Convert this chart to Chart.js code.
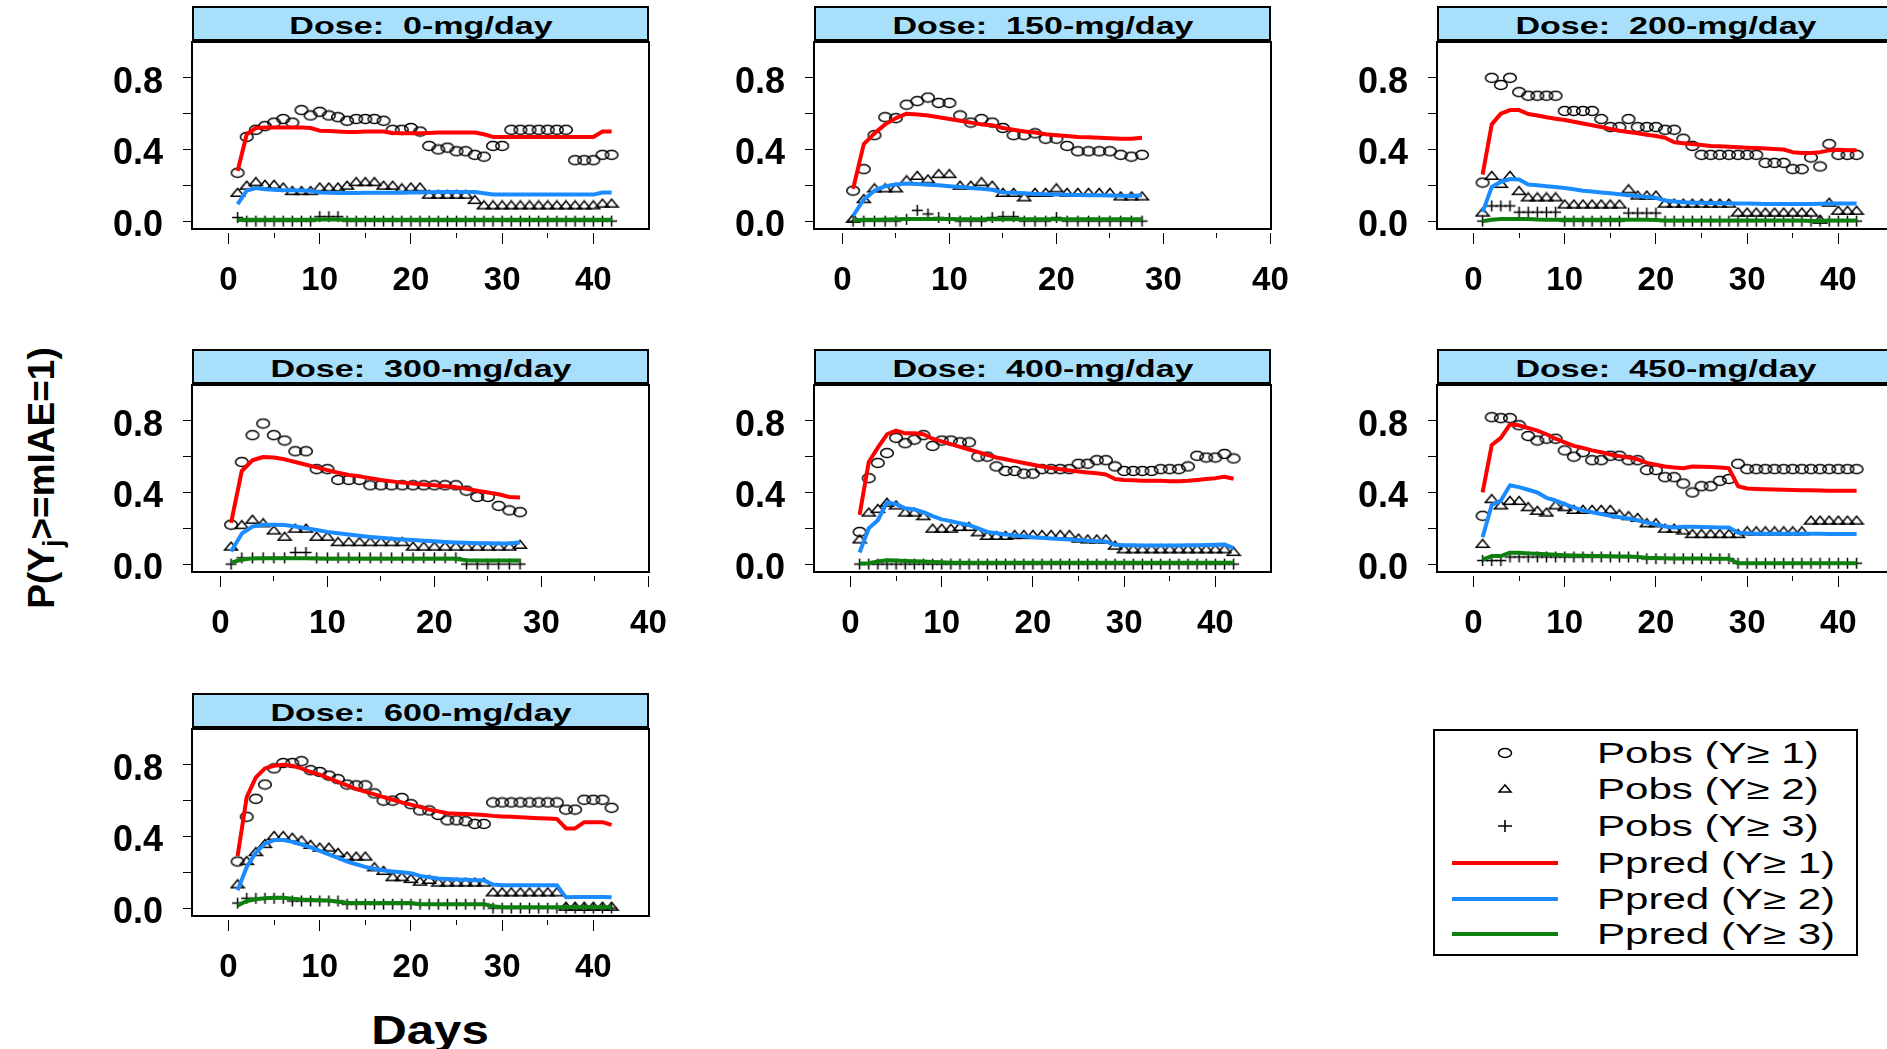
<!DOCTYPE html>
<html>
<head>
<meta charset="utf-8">
<script src="https://cdn.jsdelivr.net/npm/chart.js@4.4.0/dist/chart.umd.min.js"></script>
<style>
    body { margin: 0; width: 1887px; height: 1049px; overflow: hidden; background: #fff; position: relative;
           font-family: "Liberation Sans", Arial, Helvetica, sans-serif; }
    canvas { position: absolute; }
    .strip { position: absolute; height: 35px; box-sizing: border-box; border: 2px solid #000; background: #a8e0fc; }
    .strip span { position: absolute; left: 50%; top: 6px; line-height: 24px; font-size: 24px; font-weight: bold;
                  white-space: pre; transform: translateX(-50%) scaleX(1.42); }
    #legend { position: absolute; left: 1433px; top: 729px; width: 425px; height: 227px; box-sizing: border-box; border: 2px solid #000; }
    #legend .txt { position: absolute; left: 162px; font-size: 29px; line-height: 29px; white-space: pre;
                   transform: scaleX(1.45); transform-origin: left center; }
    #legend svg { position: absolute; }
    #ylab { position: absolute; left: 42px; top: 478px; font-size: 37px; font-weight: bold; white-space: nowrap;
            transform: translate(-50%, -50%) rotate(-90deg); }
    #ylab sub { font-size: 27px; vertical-align: -8px; line-height: 0; }
    #xlab { position: absolute; left: 430px; top: 1010px; font-size: 40px; line-height: 40px; font-weight: bold;
            transform: translateX(-50%) scaleX(1.23); }
</style>
</head>
<body>
<div id="ylab">P(Y<sub>j</sub>&gt;=mIAE=1)</div>
<div id="xlab">Days</div>
<div id="legend"></div>
<script>
const doses = ['0', '150', '200', '300', '400', '450', '600'];
const xTicks = [0, 5, 10, 15, 20, 25, 30, 35, 40];
const xTickLabels = ['0', '', '10', '', '20', '', '30', '', '40'];
const yTicks = [0, 0.2, 0.4, 0.6, 0.8];
const yTickLabels = ['0.0', '', '0.4', '', '0.8'];
const legendLabels = ['Pobs (Y\u2265 1)', 'Pobs (Y\u2265 2)', 'Pobs (Y\u2265 3)',
                      'Ppred (Y\u2265 1)', 'Ppred (Y\u2265 2)', 'Ppred (Y\u2265 3)'];

// Dose 0 mg/day, days 1-42
const pobs1_0 = [0.27, 0.47, 0.51, 0.53, 0.55, 0.57, 0.55, 0.62, 0.59, 0.61,
    0.59, 0.58, 0.56, 0.57, 0.57, 0.57, 0.56, 0.51, 0.51, 0.52,
    0.50, 0.42, 0.40, 0.41, 0.39, 0.39, 0.37, 0.36, 0.42, 0.42,
    0.51, 0.51, 0.51, 0.51, 0.51, 0.51, 0.51, 0.34, 0.34, 0.34,
    0.37, 0.37];
const pobs2_0 = [0.16, 0.20, 0.22, 0.205, 0.205, 0.19, 0.17, 0.17, 0.17, 0.19,
    0.19, 0.19, 0.20, 0.22, 0.22, 0.22, 0.20, 0.20, 0.185, 0.19,
    0.19, 0.15, 0.15, 0.15, 0.15, 0.15, 0.12, 0.09, 0.09, 0.09,
    0.09, 0.09, 0.09, 0.09, 0.09, 0.09, 0.09, 0.09, 0.09, 0.09,
    0.10, 0.10];
const pobs3_0 = [0.02, 0, 0, 0, 0, 0, 0, 0, 0, 0.025,
    0.025, 0.025, 0, 0, 0, 0, 0, 0, 0, 0,
    0, 0, 0, 0, 0, 0, 0, 0, 0, 0,
    0, 0, 0, 0, 0, 0, 0, 0, 0, 0,
    0, 0];
const ppred1_0 = [0.28, 0.485, 0.52, 0.523, 0.523, 0.523, 0.523, 0.523, 0.52, 0.505,
    0.503, 0.50, 0.498, 0.498, 0.50, 0.50, 0.50, 0.492, 0.49, 0.49,
    0.49, 0.492, 0.495, 0.495, 0.495, 0.495, 0.495, 0.485, 0.47, 0.47,
    0.47, 0.47, 0.47, 0.47, 0.47, 0.47, 0.47, 0.47, 0.47, 0.47,
    0.50, 0.50];
const ppred2_0 = [0.095, 0.17, 0.185, 0.178, 0.175, 0.173, 0.172, 0.171, 0.17, 0.16,
    0.158, 0.157, 0.157, 0.157, 0.158, 0.158, 0.158, 0.158, 0.158, 0.16,
    0.16, 0.161, 0.162, 0.163, 0.163, 0.163, 0.162, 0.156, 0.149, 0.148,
    0.148, 0.148, 0.148, 0.148, 0.148, 0.148, 0.148, 0.148, 0.148, 0.148,
    0.16, 0.16];
const ppred3_0 = [0.006, 0.008, 0.008, 0.008, 0.008, 0.008, 0.008, 0.008, 0.008, 0.009,
    0.009, 0.009, 0.008, 0.008, 0.008, 0.008, 0.008, 0.008, 0.008, 0.008,
    0.008, 0.008, 0.008, 0.008, 0.008, 0.008, 0.008, 0.008, 0.007, 0.007,
    0.007, 0.007, 0.007, 0.007, 0.007, 0.007, 0.007, 0.007, 0.007, 0.007,
    0.008, 0.008];

// Dose 150 mg/day, days 1-28
const pobs1_150 = [0.17, 0.29, 0.48, 0.58, 0.575, 0.65, 0.67, 0.69, 0.66, 0.66,
    0.59, 0.55, 0.57, 0.55, 0.52, 0.48, 0.48, 0.49, 0.46, 0.46,
    0.42, 0.39, 0.39, 0.39, 0.39, 0.37, 0.36, 0.37];
const pobs2_150 = [0.015, 0.125, 0.185, 0.185, 0.185, 0.23, 0.255, 0.235, 0.265, 0.265,
    0.20, 0.20, 0.22, 0.20, 0.16, 0.16, 0.135, 0.16, 0.16, 0.185,
    0.16, 0.16, 0.16, 0.16, 0.16, 0.14, 0.14, 0.14];
const pobs3_150 = [0, 0, 0, 0, 0, 0.01, 0.06, 0.04, 0.02, 0.015,
    0, 0, 0, 0.02, 0.025, 0.025, 0, 0, 0, 0.02,
    0, 0, 0, 0, 0, 0, 0, 0];
const ppred1_150 = [0.18, 0.43, 0.49, 0.54, 0.575, 0.60, 0.595, 0.59, 0.58, 0.57,
    0.56, 0.55, 0.54, 0.535, 0.52, 0.51, 0.50, 0.495, 0.485, 0.48,
    0.475, 0.47, 0.468, 0.465, 0.462, 0.46, 0.46, 0.465];
const ppred2_150 = [0.03, 0.12, 0.17, 0.195, 0.205, 0.21, 0.207, 0.203, 0.20, 0.195,
    0.19, 0.185, 0.18, 0.175, 0.16, 0.158, 0.155, 0.152, 0.15, 0.148,
    0.147, 0.146, 0.145, 0.144, 0.143, 0.142, 0.14, 0.145];
const ppred3_150 = [0.004, 0.007, 0.008, 0.009, 0.01, 0.012, 0.012, 0.012, 0.012, 0.012,
    0.011, 0.011, 0.011, 0.011, 0.011, 0.011, 0.01, 0.01, 0.01, 0.01,
    0.01, 0.01, 0.01, 0.01, 0.01, 0.01, 0.01, 0.01];

// Dose 200 mg/day, days 1-42
const pobs1_200 = [0.215, 0.80, 0.76, 0.80, 0.72, 0.70, 0.70, 0.70, 0.70, 0.615,
    0.615, 0.615, 0.615, 0.57, 0.525, 0.525, 0.57, 0.525, 0.525, 0.525,
    0.51, 0.51, 0.46, 0.42, 0.37, 0.37, 0.37, 0.37, 0.37, 0.37,
    0.37, 0.325, 0.325, 0.325, 0.29, 0.29, 0.355, 0.305, 0.43, 0.37,
    0.37, 0.37];
const pobs2_200 = [0.05, 0.255, 0.21, 0.255, 0.17, 0.135, 0.135, 0.135, 0.135, 0.095,
    0.095, 0.095, 0.095, 0.095, 0.095, 0.095, 0.18, 0.145, 0.145, 0.145,
    0.10, 0.10, 0.10, 0.10, 0.10, 0.10, 0.10, 0.10, 0.05, 0.05,
    0.05, 0.05, 0.05, 0.05, 0.05, 0.05, 0.05, 0.01, 0.105, 0.06,
    0.06, 0.06];
const pobs3_200 = [0, 0.085, 0.085, 0.085, 0.05, 0.05, 0.05, 0.05, 0.05, 0,
    0, 0, 0, 0, 0, 0, 0.045, 0.045, 0.045, 0.045,
    0, 0, 0, 0, 0, 0, 0, 0, 0, 0,
    0, 0, 0, 0, 0, 0, 0, 0, 0, 0,
    0, 0];
const ppred1_200 = [0.26, 0.54, 0.60, 0.62, 0.62, 0.598, 0.59, 0.58, 0.572, 0.565,
    0.555, 0.545, 0.535, 0.525, 0.515, 0.505, 0.497, 0.49, 0.482, 0.475,
    0.465, 0.44, 0.435, 0.43, 0.425, 0.42, 0.418, 0.415, 0.412, 0.41,
    0.408, 0.405, 0.402, 0.40, 0.385, 0.38, 0.38, 0.385, 0.395, 0.398,
    0.395, 0.395];
const ppred2_200 = [0.05, 0.19, 0.22, 0.235, 0.233, 0.205, 0.20, 0.195, 0.19, 0.185,
    0.178, 0.17, 0.165, 0.16, 0.155, 0.15, 0.145, 0.14, 0.135, 0.13,
    0.115, 0.11, 0.105, 0.103, 0.102, 0.101, 0.10, 0.10, 0.099, 0.098,
    0.097, 0.096, 0.095, 0.095, 0.095, 0.095, 0.096, 0.097, 0.098, 0.098,
    0.098, 0.098];
const ppred3_200 = [0.0, 0.008, 0.012, 0.012, 0.012, 0.012, 0.009, 0.008, 0.008, 0.007,
    0.007, 0.007, 0.007, 0.007, 0.007, 0.007, 0.007, 0.007, 0.007, 0.006,
    0.004, 0.003, 0.003, 0.003, 0.003, 0.003, 0.003, 0.003, 0.003, 0.003,
    0.003, 0.003, 0.003, 0.003, 0.003, 0.003, 0.001, 0.001, 0.003, 0.003,
    0.003, 0.003];

// Dose 300 mg/day, days 1-28
const pobs1_300 = [0.22, 0.57, 0.72, 0.785, 0.72, 0.69, 0.63, 0.63, 0.53, 0.53,
    0.47, 0.47, 0.47, 0.44, 0.44, 0.44, 0.44, 0.44, 0.44, 0.44,
    0.44, 0.44, 0.41, 0.375, 0.375, 0.325, 0.30, 0.29];
const pobs2_300 = [0.10, 0.22, 0.25, 0.23, 0.19, 0.155, 0.20, 0.20, 0.155, 0.155,
    0.125, 0.125, 0.125, 0.125, 0.125, 0.125, 0.125, 0.10, 0.10, 0.10,
    0.10, 0.10, 0.10, 0.10, 0.10, 0.10, 0.10, 0.11];
const pobs3_300 = [0, 0.035, 0.035, 0.035, 0.035, 0.035, 0.065, 0.065, 0.035, 0.035,
    0.035, 0.035, 0.035, 0.035, 0.035, 0.035, 0.035, 0.035, 0.035, 0.035,
    0.035, 0.035, 0, 0, 0, 0, 0, 0];
const ppred1_300 = [0.23, 0.52, 0.58, 0.598, 0.595, 0.585, 0.57, 0.555, 0.54, 0.525,
    0.51, 0.498, 0.49, 0.48, 0.47, 0.462, 0.455, 0.45, 0.445, 0.44,
    0.435, 0.43, 0.42, 0.41, 0.40, 0.39, 0.375, 0.372];
const ppred2_300 = [0.07, 0.17, 0.21, 0.22, 0.22, 0.218, 0.21, 0.20, 0.19, 0.18,
    0.172, 0.165, 0.158, 0.152, 0.147, 0.142, 0.138, 0.134, 0.13, 0.127,
    0.124, 0.121, 0.119, 0.117, 0.116, 0.115, 0.116, 0.121];
const ppred3_300 = [0.008, 0.025, 0.032, 0.033, 0.033, 0.033, 0.033, 0.033, 0.031, 0.03,
    0.03, 0.03, 0.03, 0.03, 0.03, 0.03, 0.03, 0.03, 0.03, 0.03,
    0.03, 0.03, 0.022, 0.02, 0.02, 0.02, 0.02, 0.02];

// Dose 400 mg/day, days 1-42
const pobs1_400 = [0.18, 0.48, 0.565, 0.62, 0.705, 0.675, 0.695, 0.72, 0.66, 0.69,
    0.69, 0.68, 0.68, 0.60, 0.60, 0.545, 0.52, 0.52, 0.505, 0.505,
    0.53, 0.53, 0.53, 0.53, 0.56, 0.56, 0.58, 0.58, 0.545, 0.52,
    0.52, 0.52, 0.52, 0.53, 0.53, 0.53, 0.545, 0.605, 0.595, 0.595,
    0.615, 0.59];
const pobs2_400 = [0.14, 0.29, 0.31, 0.345, 0.33, 0.29, 0.29, 0.27, 0.20, 0.20,
    0.20, 0.21, 0.21, 0.18, 0.16, 0.16, 0.16, 0.165, 0.165, 0.165,
    0.165, 0.165, 0.165, 0.165, 0.145, 0.14, 0.14, 0.14, 0.105, 0.085,
    0.085, 0.085, 0.085, 0.085, 0.085, 0.085, 0.085, 0.085, 0.085, 0.085,
    0.085, 0.07];
const pobs3_400 = [0, 0, 0, 0, 0, 0, 0, 0, 0, 0,
    0, 0, 0, 0, 0, 0, 0, 0, 0, 0,
    0, 0, 0, 0, 0, 0, 0, 0, 0, 0,
    0, 0, 0, 0, 0, 0, 0, 0, 0, 0,
    0, 0];
const ppred1_400 = [0.275, 0.57, 0.65, 0.725, 0.745, 0.73, 0.73, 0.725, 0.70, 0.685,
    0.67, 0.655, 0.64, 0.625, 0.61, 0.595, 0.585, 0.575, 0.565, 0.555,
    0.545, 0.537, 0.53, 0.523, 0.517, 0.512, 0.507, 0.50, 0.475, 0.47,
    0.468, 0.466, 0.465, 0.465, 0.463, 0.462, 0.465, 0.47, 0.475, 0.48,
    0.488, 0.477];
const ppred2_400 = [0.065, 0.20, 0.245, 0.345, 0.335, 0.312, 0.305, 0.29, 0.268, 0.25,
    0.24, 0.228, 0.218, 0.20, 0.18, 0.172, 0.165, 0.16, 0.155, 0.15,
    0.147, 0.143, 0.14, 0.137, 0.134, 0.131, 0.128, 0.126, 0.108, 0.106,
    0.105, 0.104, 0.104, 0.104, 0.104, 0.104, 0.105, 0.106, 0.107, 0.108,
    0.11, 0.09];
const ppred3_400 = [0.003, 0.005, 0.015, 0.022, 0.02, 0.018, 0.016, 0.015, 0.012, 0.01,
    0.008, 0.008, 0.008, 0.008, 0.008, 0.008, 0.008, 0.008, 0.008, 0.008,
    0.008, 0.008, 0.008, 0.008, 0.008, 0.008, 0.008, 0.008, 0.008, 0.008,
    0.008, 0.008, 0.008, 0.008, 0.008, 0.008, 0.008, 0.008, 0.008, 0.008,
    0.008, 0.008];

// Dose 450 mg/day, days 1-42
const pobs1_450 = [0.27, 0.82, 0.815, 0.815, 0.775, 0.715, 0.69, 0.70, 0.70, 0.635,
    0.60, 0.625, 0.58, 0.58, 0.605, 0.605, 0.58, 0.58, 0.525, 0.525,
    0.485, 0.485, 0.45, 0.40, 0.435, 0.435, 0.465, 0.475, 0.56, 0.53,
    0.53, 0.53, 0.53, 0.53, 0.53, 0.53, 0.53, 0.53, 0.53, 0.53,
    0.53, 0.53];
const pobs2_450 = [0.115, 0.365, 0.33, 0.355, 0.355, 0.32, 0.30, 0.29, 0.33, 0.32,
    0.305, 0.305, 0.305, 0.305, 0.305, 0.28, 0.27, 0.26, 0.23, 0.23,
    0.20, 0.20, 0.19, 0.17, 0.17, 0.17, 0.17, 0.17, 0.17, 0.185,
    0.185, 0.185, 0.185, 0.185, 0.185, 0.185, 0.245, 0.245, 0.245, 0.245,
    0.245, 0.245];
const pobs3_450 = [0.02, 0.02, 0.02, 0.04, 0.04, 0.04, 0.04, 0.04, 0.04, 0.04,
    0.04, 0.04, 0.04, 0.04, 0.04, 0.04, 0.04, 0.04, 0.03, 0.03,
    0.03, 0.03, 0.03, 0.03, 0.03, 0.03, 0.03, 0.03, 0.005, 0.005,
    0.005, 0.005, 0.005, 0.005, 0.005, 0.005, 0.005, 0.005, 0.005, 0.005,
    0.005, 0.005];
const ppred1_450 = [0.40, 0.665, 0.705, 0.78, 0.775, 0.76, 0.745, 0.725, 0.70, 0.68,
    0.66, 0.648, 0.635, 0.625, 0.612, 0.603, 0.595, 0.585, 0.565, 0.555,
    0.545, 0.54, 0.535, 0.545, 0.543, 0.542, 0.54, 0.535, 0.435, 0.422,
    0.42, 0.418, 0.416, 0.415, 0.414, 0.413, 0.412, 0.411, 0.41, 0.41,
    0.41, 0.41];
const ppred2_450 = [0.15, 0.33, 0.355, 0.44, 0.43, 0.415, 0.40, 0.37, 0.355, 0.335,
    0.315, 0.30, 0.29, 0.28, 0.27, 0.262, 0.255, 0.245, 0.232, 0.222,
    0.21, 0.205, 0.208, 0.208, 0.207, 0.206, 0.205, 0.205, 0.175, 0.172,
    0.17, 0.17, 0.17, 0.17, 0.17, 0.169, 0.169, 0.169, 0.168, 0.168,
    0.168, 0.168];
const ppred3_450 = [0.025, 0.045, 0.045, 0.064, 0.063, 0.06, 0.058, 0.055, 0.053, 0.05,
    0.048, 0.047, 0.046, 0.045, 0.044, 0.043, 0.042, 0.04, 0.035, 0.034,
    0.033, 0.032, 0.032, 0.031, 0.031, 0.03, 0.03, 0.03, 0.005, 0.005,
    0.005, 0.005, 0.005, 0.005, 0.005, 0.005, 0.005, 0.005, 0.005, 0.005,
    0.005, 0.005];

// Dose 600 mg/day, days 1-42
const pobs1_600 = [0.26, 0.51, 0.61, 0.69, 0.78, 0.81, 0.81, 0.82, 0.77, 0.76,
    0.74, 0.72, 0.69, 0.685, 0.685, 0.64, 0.60, 0.60, 0.615, 0.58,
    0.545, 0.545, 0.52, 0.49, 0.49, 0.485, 0.47, 0.47, 0.59, 0.59,
    0.59, 0.59, 0.59, 0.59, 0.59, 0.59, 0.55, 0.55, 0.605, 0.605,
    0.605, 0.56];
const pobs2_600 = [0.135, 0.265, 0.315, 0.36, 0.405, 0.405, 0.395, 0.38, 0.355, 0.34,
    0.34, 0.31, 0.29, 0.29, 0.29, 0.23, 0.21, 0.175, 0.175, 0.165,
    0.15, 0.16, 0.145, 0.145, 0.145, 0.145, 0.145, 0.145, 0.09, 0.09,
    0.09, 0.09, 0.09, 0.09, 0.09, 0.09, 0.01, 0.01, 0.01, 0.01,
    0.01, 0.01];
const pobs3_600 = [0.028, 0.055, 0.055, 0.055, 0.055, 0.055, 0.04, 0.04, 0.04, 0.04,
    0.04, 0.04, 0.022, 0.022, 0.022, 0.022, 0.022, 0.022, 0.022, 0.022,
    0.022, 0.022, 0.022, 0.022, 0.022, 0.022, 0.022, 0.022, 0, 0,
    0, 0, 0, 0, 0, 0, 0, 0, 0, 0,
    0, 0];
const ppred1_600 = [0.29, 0.62, 0.73, 0.78, 0.795, 0.80, 0.795, 0.78, 0.76, 0.745,
    0.725, 0.705, 0.685, 0.665, 0.65, 0.635, 0.62, 0.605, 0.59, 0.578,
    0.565, 0.55, 0.54, 0.53, 0.527, 0.525, 0.522, 0.52, 0.515, 0.512,
    0.51, 0.507, 0.505, 0.502, 0.50, 0.498, 0.445, 0.445, 0.48, 0.48,
    0.48, 0.465];
const ppred2_600 = [0.10, 0.23, 0.31, 0.36, 0.38, 0.38, 0.37, 0.355, 0.34, 0.32,
    0.30, 0.28, 0.26, 0.245, 0.23, 0.22, 0.21, 0.205, 0.20, 0.195,
    0.18, 0.172, 0.165, 0.162, 0.16, 0.158, 0.156, 0.155, 0.132, 0.128,
    0.128, 0.128, 0.128, 0.128, 0.128, 0.128, 0.06, 0.062, 0.062, 0.062,
    0.062, 0.06];
const ppred3_600 = [0.015, 0.04, 0.05, 0.055, 0.058, 0.058, 0.052, 0.048, 0.046, 0.044,
    0.042, 0.035, 0.03, 0.028, 0.028, 0.028, 0.028, 0.028, 0.028, 0.028,
    0.022, 0.022, 0.022, 0.022, 0.022, 0.022, 0.022, 0.022, 0.01, 0.005,
    0.005, 0.005, 0.005, 0.005, 0.005, 0.005, 0.005, 0.005, 0.005, 0.005,
    0.005, 0.005];

const obsSeries = [
    [pobs1_0, pobs2_0, pobs3_0], [pobs1_150, pobs2_150, pobs3_150], [pobs1_200, pobs2_200, pobs3_200],
    [pobs1_300, pobs2_300, pobs3_300], [pobs1_400, pobs2_400, pobs3_400], [pobs1_450, pobs2_450, pobs3_450],
    [pobs1_600, pobs2_600, pobs3_600]
];
const predSeries = [
    [ppred1_0, ppred2_0, ppred3_0], [ppred1_150, ppred2_150, ppred3_150], [ppred1_200, ppred2_200, ppred3_200],
    [ppred1_300, ppred2_300, ppred3_300], [ppred1_400, ppred2_400, ppred3_400], [ppred1_450, ppred2_450, ppred3_450],
    [ppred1_600, ppred2_600, ppred3_600]
];

// layout of the lattice (page pixels)
const boxLefts = [192, 814, 1437];
const boxTops = [40, 383, 727];
const BOX_W = 457, BOX_H = 189;
const cells = [[0, 0], [1, 0], [2, 0], [0, 1], [1, 1], [2, 1], [0, 2]];
const lineColors = ['#ff0000', '#1a8cff', '#0e800e'];

Chart.defaults.font.family = '"Liberation Sans", Arial, sans-serif';

function marker(w, h, draw) {
    const c = document.createElement('canvas');
    c.width = w;
    c.height = h;
    const g = c.getContext('2d');
    g.strokeStyle = '#000';
    g.lineWidth = 1.5;
    g.beginPath();
    draw(g);
    g.stroke();
    return c;
}
const markers = [
    marker(16, 12, g => g.ellipse(8, 6, 6.3, 4.5, 0, 0, Math.PI * 2)),
    marker(16, 11, g => { g.moveTo(1.5, 9.3); g.lineTo(8, 1.5); g.lineTo(14.5, 9.3); g.closePath(); }),
    marker(13, 13, g => { g.moveTo(1, 6.5); g.lineTo(12, 6.5); g.moveTo(6.5, 1); g.lineTo(6.5, 12); })
];

const boxPlugin = {
    id: 'box',
    afterDraw(chart) {
        const { ctx, chartArea: a } = chart;
        ctx.save();
        ctx.lineWidth = 2;
        ctx.strokeStyle = '#000';
        ctx.strokeRect(a.left, a.top, a.right - a.left, a.bottom - a.top);
        ctx.restore();
    }
};

const toXY = arr => arr.map((y, i) => ({ x: i + 1, y: y }));

doses.forEach((dose, k) => {
    const left = boxLefts[cells[k][0]];
    const top = boxTops[cells[k][1]];
    const nDays = obsSeries[k][0].length;

    const canvas = document.createElement('canvas');
    canvas.width = 100 + BOX_W + 30;
    canvas.height = 4 + BOX_H + 80;
    canvas.style.left = (left - 100) + 'px';
    canvas.style.top = (top - 4) + 'px';
    document.body.appendChild(canvas);

    const strip = document.createElement('div');
    strip.className = 'strip';
    strip.style.left = left + 'px';
    strip.style.top = (top - 34) + 'px';
    strip.style.width = BOX_W + 'px';
    const title = document.createElement('span');
    title.textContent = 'Dose:  ' + dose + '-mg/day';
    strip.appendChild(title);
    document.body.appendChild(strip);

    const datasets = [];
    predSeries[k].forEach((arr, j) => {
        datasets.push({
            label: legendLabels[j + 3],
            data: toXY(arr),
            borderColor: lineColors[j],
            borderWidth: 4,
            borderJoinStyle: 'round',
            pointRadius: 0,
            fill: false,
            tension: 0
        });
    });
    obsSeries[k].forEach((arr, j) => {
        datasets.push({
            label: legendLabels[j],
            data: toXY(arr),
            showLine: false,
            pointStyle: markers[j],
            pointRadius: 5
        });
    });

    new Chart(canvas, {
        type: 'line',
        data: { datasets: datasets },
        options: {
            responsive: false,
            animation: false,
            devicePixelRatio: 1,
            layout: { padding: { top: 4, right: 30, left: 0, bottom: 0 } },
            plugins: { legend: { display: false }, tooltip: { enabled: false } },
            scales: {
                x: {
                    type: 'linear',
                    min: nDays > 30 ? -4 : -2.65,
                    max: nDays > 30 ? 46.1 : 40.05,
                    afterBuildTicks: s => { s.ticks = xTicks.map(v => ({ value: v })); },
                    afterFit: s => { s.height = 80; s.paddingLeft = 0; s.paddingRight = 0; },
                    border: { display: false },
                    grid: {
                        drawOnChartArea: false,
                        tickLength: 15,
                        tickColor: '#000',
                        tickWidth: 1,
                        tickBorderDash: c => (c.index % 2 === 0 ? [0, 4, 11, 60] : [0, 4, 5, 60])
                    },
                    ticks: {
                        autoSkip: false,
                        maxRotation: 0,
                        padding: 17,
                        color: '#000',
                        font: { size: 33, weight: 'bold' },
                        callback: (v, i) => xTickLabels[i]
                    }
                },
                y: {
                    min: -0.044,
                    max: 1.0,
                    afterBuildTicks: s => { s.ticks = yTicks.map(v => ({ value: v })); },
                    afterFit: s => { s.width = 100; s.paddingTop = 0; s.paddingBottom = 0; },
                    border: { display: false },
                    grid: { drawOnChartArea: false, tickLength: 9, tickColor: '#000', tickWidth: 1 },
                    ticks: {
                        padding: 20,
                        color: '#000',
                        // two-line label with a short line height drops the text a few px below the tick, as in R
                        font: { size: 36, weight: 'bold', lineHeight: 0.28 },
                        callback: (v, i) => (yTickLabels[i] ? ['', yTickLabels[i]] : '')
                    }
                }
            }
        },
        plugins: [boxPlugin]
    });
});

// legend
const legend = document.getElementById('legend');
const rowMid = [22, 58, 95, 132, 168, 203];
const symbols = [
    '<ellipse cx="12" cy="8" rx="6.5" ry="4.5" fill="none" stroke="#000" stroke-width="1.5"/>',
    '<path d="M6 11 L12 4 L18 11 Z" fill="none" stroke="#000" stroke-width="1.5"/>',
    '<path d="M5 8 H19 M12 2 V14" stroke="#000" stroke-width="1.6"/>'
];
legendLabels.forEach((lab, i) => {
    if (i < 3) {
        const s = document.createElementNS('http://www.w3.org/2000/svg', 'svg');
        s.setAttribute('width', 24);
        s.setAttribute('height', 16);
        s.style.left = '58px';
        s.style.top = (rowMid[i] - 8) + 'px';
        s.innerHTML = symbols[i];
        legend.appendChild(s);
    } else {
        const ln = document.createElement('div');
        ln.style.cssText = 'position:absolute;left:17px;width:106px;height:4px;background:' + lineColors[i - 3] +
            ';top:' + (rowMid[i] - 2) + 'px';
        legend.appendChild(ln);
    }
    const t = document.createElement('div');
    t.className = 'txt';
    t.textContent = lab;
    t.style.top = (rowMid[i] - 14) + 'px';
    legend.appendChild(t);
});
</script>
</body>
</html>
